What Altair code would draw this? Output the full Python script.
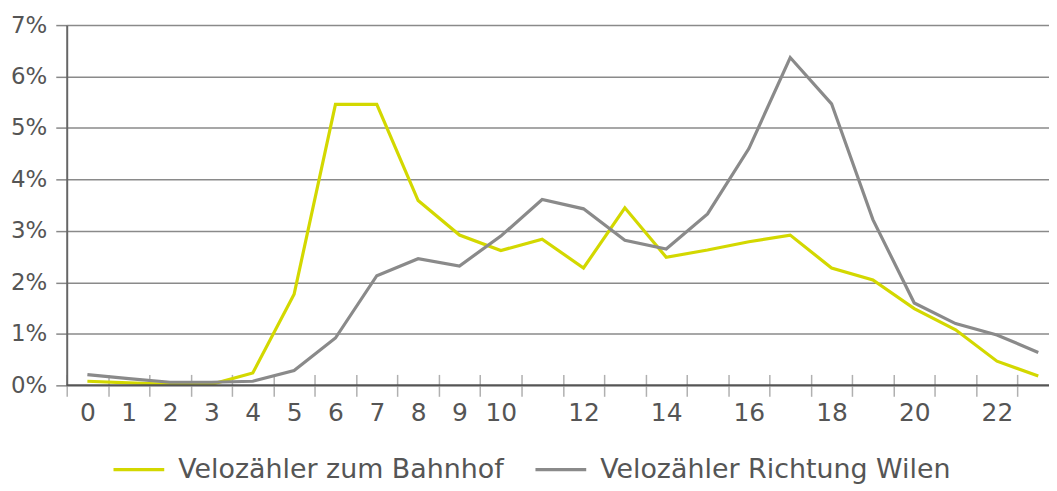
import altair as alt
import pandas as pd

hours = list(range(24))
bahnhof = [0.08, 0.05, 0.02, 0.02, 0.24, 1.77, 5.46, 5.46, 3.59, 2.92, 2.62, 2.84,
           2.28, 3.45, 2.49, 2.63, 2.79, 2.92, 2.28, 2.05, 1.49, 1.08, 0.47, 0.18]
wilen = [0.21, 0.13, 0.06, 0.06, 0.08, 0.29, 0.92, 2.13, 2.46, 2.32, 2.90, 3.61,
         3.43, 2.82, 2.65, 3.33, 4.60, 6.37, 5.47, 3.22, 1.60, 1.20, 0.98, 0.64]
series_names = ["Velozähler zum Bahnhof", "Velozähler Richtung Wilen"]
series_colors = ["#d3d800", "#8a8a8a"]
y_ticks = [0, 1, 2, 3, 4, 5, 6, 7]

rows = []
for h, v in zip(hours, bahnhof):
    rows.append({"hour": h, "value": v, "series": series_names[0]})
for h, v in zip(hours, wilen):
    rows.append({"hour": h, "value": v, "series": series_names[1]})
df = pd.DataFrame(rows)
base_df = pd.DataFrame({"value": [0]})

FONT = "DejaVu Sans"
W = 987
BAND_RANGE = 997

x_enc = alt.X(
    "hour:O",
    bandPosition=0.5,
    scale=alt.Scale(type="band", paddingInner=0, paddingOuter=0, range=[0, BAND_RANGE]),
    axis=alt.Axis(
        title=None,
        domain=False,
        tickBand="extent",
        tickSize=22,
        tickColor="#b0b0b0",
        tickWidth=1.5,
        offset=-11,
        labelPadding=4,
        labelFontSize=25,
        labelColor="#555555",
        labelFont=FONT,
        labelAngle=0,
        labelExpr="(toNumber(datum.value) <= 10 || toNumber(datum.value) % 2 == 0) ? datum.label : ''",
        grid=False,
    ),
)

y_axis = alt.Axis(
    title=None,
    values=y_ticks,
    labelExpr="datum.value + '%'",
    labelFontSize=23,
    labelColor="#555555",
    labelFont=FONT,
    labelPadding=9,
    tickSize=11,
    tickColor="#888888",
    tickWidth=1.5,
    domainColor="#666666",
    domainWidth=2,
    grid=True,
    gridColor="#8a8a8a",
    gridWidth=1.5,
)
y_scale = alt.Scale(domain=[0, 7], nice=False)

lines = alt.Chart(df).mark_line(strokeWidth=3.2).encode(
    x=x_enc,
    y=alt.Y("value:Q", scale=y_scale, axis=y_axis),
    color=alt.Color(
        "series:N",
        scale=alt.Scale(domain=series_names, range=series_colors),
        legend=alt.Legend(
            title=None,
            orient="none",
            legendX=45,
            legendY=419,
            direction="horizontal",
            symbolType="stroke",
            symbolSize=2601,
            symbolStrokeWidth=3.2,
            labelFontSize=27,
            labelFont=FONT,
            labelColor="#555555",
            labelOffset=12,
            labelLimit=0,
            columnPadding=24,
        ),
    ),
)

baseline = alt.Chart(base_df).mark_rule(color="#555555", strokeWidth=2).encode(
    y=alt.Y("value:Q", scale=y_scale, axis=y_axis)
)

chart = alt.layer(lines, baseline).properties(
    width=W,
    height=362,
    autosize=alt.AutoSizeParams(type="none"),
    padding={"left": 59, "top": 16, "right": 0, "bottom": 110},
).configure(background="white").configure_view(stroke=None)

chart.save("out.html", embed_options={"renderer": "svg", "actions": False})
